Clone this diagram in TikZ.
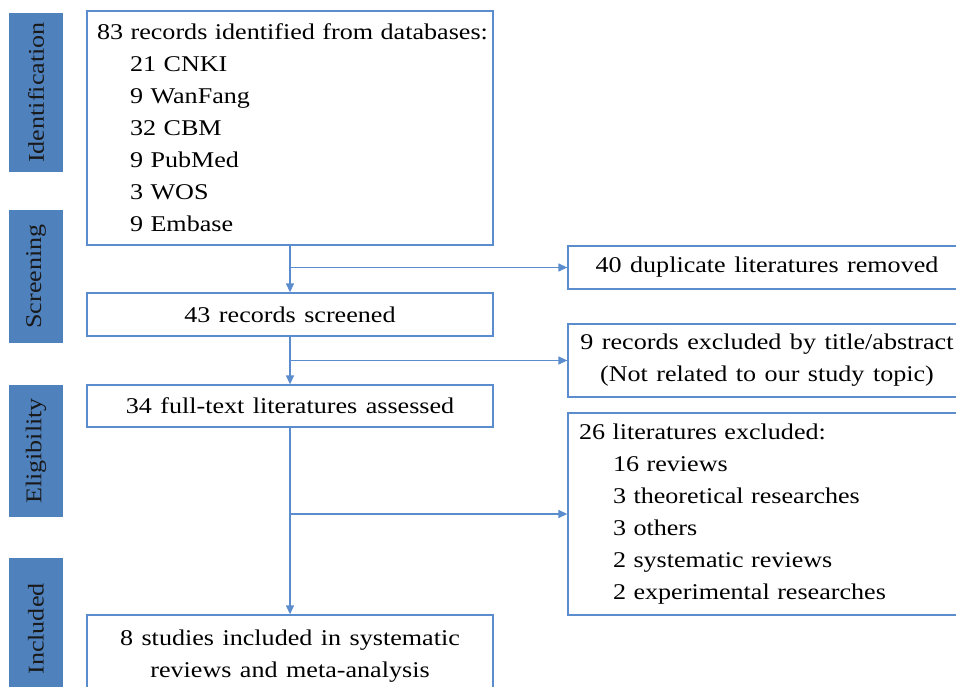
\documentclass[tikz,border=0pt]{standalone}
\usepackage{fontspec}
\setmainfont{Liberation Serif}[FakeStretch=1.16, WordSpace=1.3]
\usetikzlibrary{arrows.meta}
\definecolor{stageblue}{RGB}{79,129,189}
\definecolor{lineblue}{RGB}{91,140,205}
\tikzset{
  stage/.style={fill=stageblue, rotate=90, minimum height=54pt, inner sep=0pt, text=black!90},
  box/.style={draw=lineblue, line width=1.3pt, inner sep=0pt, align=center},
  flow/.style={draw=lineblue, line width=1.3pt, -{Triangle[length=9pt,width=8pt]}},
}

\begin{document}
\begin{tikzpicture}[x=1pt, y=1pt, every node/.style={font=\fontsize{22.5}{32}\selectfont}]
  \useasboundingbox (0,0) rectangle (956,-687);
  \clip (0,0) rectangle (956,-687);

  % stages on the left
  \node[stage, minimum width=159pt] (ident) at (36,-92.5) {Identification};
  \node[stage, minimum width=133pt] (screen) at (36,-276.5) {Screening};
  \node[stage, minimum width=132pt] (elig) at (36,-451) {Eligibility};
  \node[stage, minimum width=142pt] (incl) at (36,-629) {Included};

  % main column
  \node[box, minimum width=406pt, minimum height=234pt, text width=386pt, align=left] (found) at (290,-128)
    {\mbox{83 records identified from databases:}\\
     \hspace*{33pt}21 CNKI\\
     \hspace*{33pt}9 WanFang\\
     \hspace*{33pt}32 CBM\\
     \hspace*{33pt}9 PubMed\\
     \hspace*{33pt}3 WOS\\
     \hspace*{33pt}9 Embase};
  \node[box, minimum width=406pt, minimum height=43pt] (screened) at (290,-314.5) {43 records screened};
  \node[box, minimum width=406pt, minimum height=42pt] (fulltext) at (290,-406) {34 full-text literatures assessed};
  \node[box, minimum width=406pt, minimum height=82pt] (studies) at (290,-656)
    {8 studies included in systematic\\reviews and meta-analysis};

  % exclusions on the right
  \node[box, minimum width=398pt, minimum height=43pt] (dupl) at (767,-267.5) {40 duplicate literatures removed};
  \node[box, minimum width=398pt, minimum height=73pt] (title) at (767,-360.5)
    {9 records excluded by title/abstract\\(Not related to our study topic)};
  \node[box, minimum width=398pt, minimum height=202pt, text width=376pt, align=left] (excl) at (767,-514)
    {26 literatures excluded:\\
     \hspace*{34pt}16 reviews\\
     \hspace*{34pt}3 theoretical researches\\
     \hspace*{34pt}3 others\\
     \hspace*{34pt}2 systematic reviews\\
     \hspace*{34pt}2 experimental researches};

  % arrows
  \draw[flow] (found) -- (screened);
  \draw[flow] (found.south |- dupl.west) -- (dupl.west);
  \draw[flow] (screened) -- (fulltext);
  \draw[flow] (screened.south |- title.west) -- (title.west);
  \draw[flow] (fulltext) -- (studies);
  \draw[flow] (fulltext.south |- excl.west) -- (excl.west);
\end{tikzpicture}
\end{document}
